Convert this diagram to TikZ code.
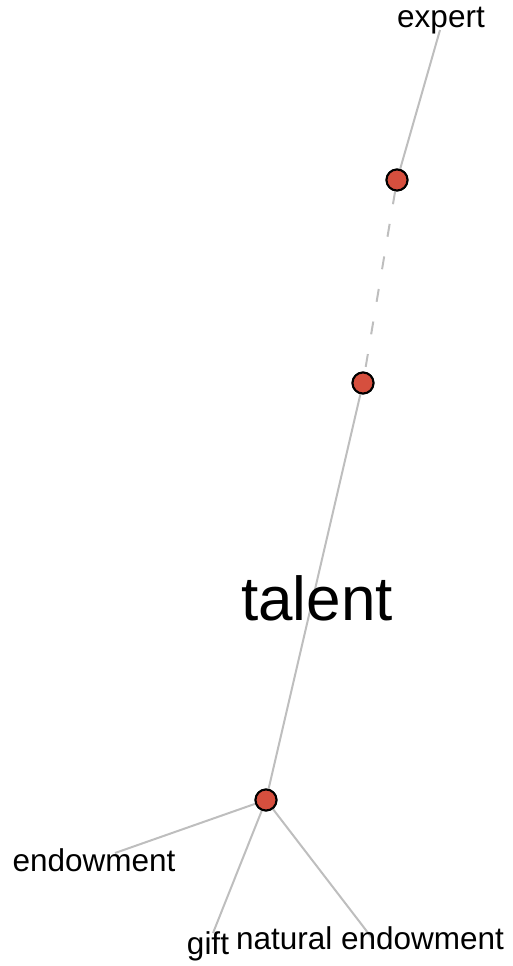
\documentclass[tikz,border=0pt]{standalone}
\usepackage{fontspec}
\setmainfont{Liberation Sans}
\begin{document}
\begin{tikzpicture}[x=1pt,y=-1pt,
  edge/.style={draw={rgb,255:red,190;green,190;blue,190}, line width=2pt},
  vtx/.style={circle, draw=black, line width=2pt, fill={rgb,255:red,214;green,79;blue,62}, minimum size=21pt, inner sep=0pt},
  lbl/.style={inner sep=0pt, font=\fontsize{31.5}{38}\selectfont},
  big/.style={inner sep=0pt, font=\fontsize{62}{72}\selectfont}]
\useasboundingbox (0,0) rectangle (512,966);
\coordinate (ex) at (440,30);
\coordinate (en) at (115,853);
\coordinate (gf) at (213,933);
\coordinate (ne) at (372,938);
\node[vtx] (A) at (397,180) {};
\node[vtx] (B) at (363,383) {};
\node[vtx] (C) at (266,800) {};
\draw[edge] (ex) -- (A);
\draw[edge, dash pattern=on 13pt off 20pt] (A) -- (B);
\draw[edge] (B) -- (C);
\draw[edge] (C) -- (en);
\draw[edge] (C) -- (gf);
\draw[edge] (C) -- (ne);
\node[vtx] at (A) {};
\node[vtx] at (B) {};
\node[vtx] at (C) {};
\node[lbl] (tex) at (441,21) {expert};
\node[big] (tta) at (317,598) {talent};
\node[lbl] (ten) at (94,860) {endowment};
\node[lbl] (tgf) at (208,946) {gift};
\node[lbl] (tne) at (370,938) {natural endowment};
\end{tikzpicture}
\end{document}
